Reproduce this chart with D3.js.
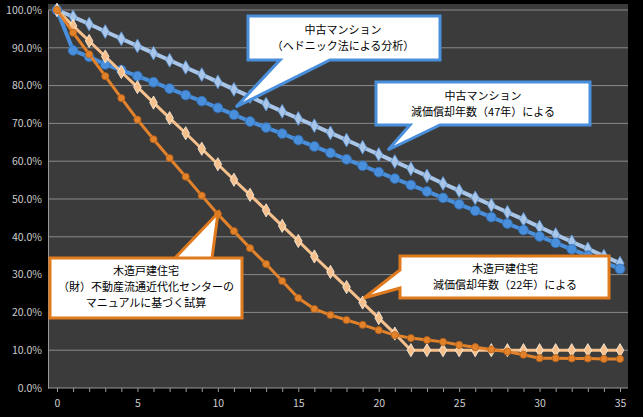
<!DOCTYPE html>
<html><head><meta charset="utf-8">
<script src="https://cdn.jsdelivr.net/npm/d3@7"></script>
<style>body{margin:0;background:#000}text{font-family:"Noto Sans CJK JP","DejaVu Sans",sans-serif}</style>
</head><body><svg width="643" height="417"></svg>
<script>
// series values (percent)
const hedonic = [100,98.2,96.3,94.3,92.4,90.5,88.6,86.7,84.8,82.9,81,79,77.1,75.1,73.2,71.3,69.4,67.5,65.6,63.7,61.8,59.9,58,56.1,54.1,52.2,50.3,48.4,46.5,44.6,42.6,40.6,38.7,36.8,34.9,33];
const mansion47 = [100,89.3,87.6,85.6,84.1,82.5,80.9,79.2,77.5,75.9,74.1,72.3,70.5,68.9,67.3,65.6,63.9,62.2,60.5,58.8,57.1,55.4,53.7,52,50.3,48.6,46.9,45.2,43.5,41.8,40.1,38.4,36.7,35,33.3,31.5];
const wood22 = [100,95.8,91.8,87.7,83.6,79.6,75.5,71.4,67.4,63.3,59.2,55.1,51.1,47,42.9,38.9,34.8,30.7,26.7,22.6,18.5,14.4,10,10,10,10,10,10,10,10,10,10,10,10,10,10];
const woodManual = [100,94,88.3,82.5,76.7,71,65.8,60.8,55.9,50.9,46,41.5,37,32.8,28.3,23.8,20.9,19.3,18,16.7,15.3,14,13.2,12.7,12.2,11.4,10.8,10.2,9.6,8.8,7.9,7.9,7.8,7.8,7.7,7.7];
const yTicks = [0,10,20,30,40,50,60,70,80,90,100];
const xTicks = [0,5,10,15,20,25,30,35];

const svg = d3.select("svg");
const x = d3.scaleLinear().domain([0,35]).range([57,620]);
const y = d3.scaleLinear().domain([0,100]).range([388,10]);

svg.append("rect").attr("x",48).attr("y",4).attr("width",580).attr("height",384).attr("fill","#3b3b3b");

// grid
svg.append("g").selectAll("line").data(yTicks.slice(1)).join("line")
  .attr("x1",48).attr("x2",628).attr("y1",d=>y(d)).attr("y2",d=>y(d))
  .attr("stroke","#8a8a8a").attr("stroke-width",1);

// axes
const yAxis = svg.append("g").attr("transform","translate(48,0)")
  .call(d3.axisLeft(y).tickValues(yTicks).tickFormat(d=>d.toFixed(1)+"%").tickSize(0).tickPadding(6));
yAxis.select(".domain").attr("stroke","#999");
yAxis.selectAll("text").attr("fill","#ccc").attr("font-size",10.5);
const xAxis = svg.append("g").attr("transform","translate(0,388)")
  .call(d3.axisBottom(x).ticks(35).tickFormat(d=>xTicks.includes(d)?d:"").tickSize(4).tickPadding(8));
xAxis.select(".domain").attr("stroke","#999").attr("d","M48,0H628");
xAxis.selectAll("line").attr("stroke","#999");
xAxis.selectAll("text").attr("fill","#ccc").attr("font-size",10.5);

const line = d3.line().x((d,i)=>x(i)).y(d=>y(d));
function series(data, color, width, shape, r, edge) {
  svg.append("path").datum(data).attr("d",line).attr("fill","none")
    .attr("stroke",color).attr("stroke-width",width);
  svg.append("g").selectAll("path").data(data).join("path")
    .attr("transform",(d,i)=>`translate(${x(i)},${y(d)})`)
    .attr("d",d3.symbol().type(shape).size(r))
    .attr("fill",color).attr("stroke",edge).attr("stroke-width",0.8);
}
series(hedonic,"#a9c6e8",4,d3.symbolDiamond,55,"#5b95d8");
series(mansion47,"#4a8fdc",4,d3.symbolCircle,75,"#2f6fb8");
series(wood22,"#f6c08c",3,d3.symbolDiamond,50,"#fff2e0");
series(woodManual,"#e2832c",3,d3.symbolCircle,40,"#b85e14");

// callouts
function callout(pts, color, lines, cx, cy) {
  svg.append("path").attr("d","M"+pts.join("L")+"Z").attr("fill","#fff")
    .attr("stroke",color).attr("stroke-width",3).attr("stroke-linejoin","miter");
  svg.append("text").attr("x",cx).attr("y",cy).attr("text-anchor","middle")
    .attr("font-size",11).attr("fill","#000")
    .selectAll("tspan").data(lines).join("tspan")
    .attr("x",cx).attr("dy",(d,i)=>i?16:0).text(d=>d);
}
callout([[248,16],[440,16],[440,60],[330,60],[236,107],[280,60],[248,60]],"#4a8fdc",
  ["中古マンション","（ヘドニック法による分析）"],343,34);
callout([[376,82],[590,82],[590,125],[440,125],[388,150],[410,125],[376,125]],"#4a8fdc",
  ["中古マンション","減価償却年数（47年）による"],483,100);
callout([[50,258],[242,258],[242,318],[50,318],[50,258],[175,258],[218,213],[212,258]],"#e07a1f",
  ["木造戸建住宅","（財）不動産流通近代化センターの","マニュアルに基づく試算"],146,275);
callout([[400,256],[609,256],[609,298],[400,298],[400,288],[364,298],[400,270]],"#e07a1f",
  ["木造戸建住宅","減価償却年数（22年）による"],505,273);
</script></body></html>
